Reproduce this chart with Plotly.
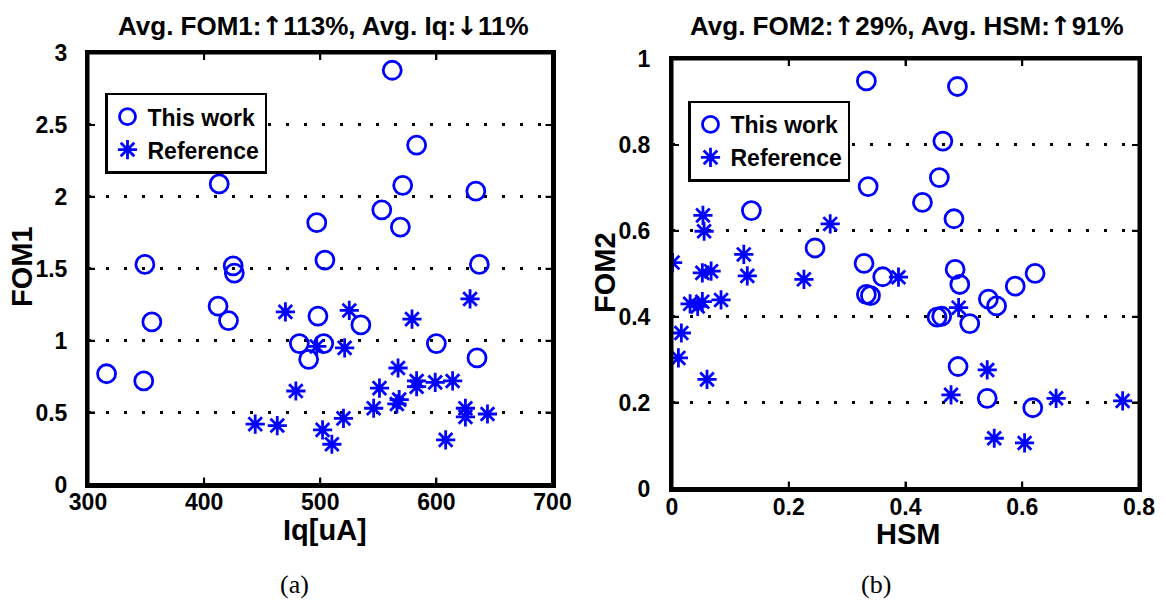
import plotly.graph_objects as go

# ---- data ----
iq_tw = [562, 583, 413, 571, 634, 553, 569, 497, 504, 349, 425, 426, 637,
         412, 421, 355, 498, 535, 482, 503, 490, 600, 635, 316, 348]
fom1_tw = [2.88, 2.36, 2.09, 2.08, 2.04, 1.91, 1.79, 1.82, 1.56, 1.53, 1.52, 1.47, 1.53,
           1.24, 1.14, 1.13, 1.17, 1.11, 0.98, 0.98, 0.87, 0.98, 0.88, 0.77, 0.72]

iq_ref = [470, 525, 579, 629, 497, 521, 567, 479, 551, 583, 583, 599, 614,
          568, 566, 546, 625, 625, 644, 520, 444, 463, 502, 510, 608]
fom1_ref = [1.20, 1.21, 1.15, 1.29, 0.96, 0.95, 0.81, 0.65, 0.67, 0.72, 0.68, 0.71, 0.72,
            0.59, 0.56, 0.53, 0.53, 0.47, 0.49, 0.46, 0.42, 0.41, 0.38, 0.28, 0.31]

hsm_tw = [0.333, 0.489, 0.464, 0.458, 0.336, 0.429, 0.483, 0.136, 0.245, 0.329, 0.361, 0.333, 0.340,
          0.485, 0.493, 0.622, 0.588, 0.542, 0.556, 0.454, 0.462, 0.510, 0.490, 0.540, 0.618]
fom2_tw = [0.949, 0.936, 0.809, 0.724, 0.703, 0.666, 0.628, 0.647, 0.560, 0.524, 0.493, 0.452, 0.449,
           0.510, 0.475, 0.501, 0.471, 0.441, 0.425, 0.399, 0.401, 0.384, 0.284, 0.210, 0.188]

hsm_ref = [0.053, 0.055, 0.271, 0.123, 0.129, 0.001, 0.052, 0.067, 0.226, 0.388, 0.031, 0.052,
           0.044, 0.084, 0.016, 0.011, 0.060, 0.491, 0.540, 0.478, 0.552, 0.604, 0.658, 0.772]
fom2_ref = [0.636, 0.599, 0.616, 0.545, 0.495, 0.526, 0.502, 0.506, 0.487, 0.492, 0.430, 0.435,
            0.424, 0.439, 0.362, 0.304, 0.254, 0.421, 0.276, 0.218, 0.117, 0.106, 0.210, 0.204]

# tick values
iq_ticks = [300, 400, 500, 600, 700]
fom1_ticks = [0, 0.5, 1, 1.5, 2, 2.5, 3]
hsm_ticks = [0, 0.2, 0.4, 0.6, 0.8]
fom2_ticks = [0, 0.2, 0.4, 0.6, 0.8, 1]

UP = '<span style="font-family:DejaVu Sans;color:black">↑</span>'
DOWN = '<span style="font-family:DejaVu Sans;color:black">↓</span>'
title_a = "Avg. FOM1:" + UP + "113%, Avg. Iq:" + DOWN + "11%"
title_b = "Avg. FOM2:" + UP + "29%, Avg. HSM:" + UP + "91%"
names = ["This work", "Reference"]

W, H = 1166, 600
SANS = "Liberation Sans, Arial, sans-serif"
BLUE = "#0000ff"

def px_x(p):
    return p / W

def px_y(p):
    return 1 - p / H

fig = go.Figure()

circ = dict(symbol="circle-open", size=18, color=BLUE, line=dict(color=BLUE, width=2.8))
star = dict(symbol="asterisk-open", size=16, color=BLUE, line=dict(color=BLUE, width=2.8))

fig.add_trace(go.Scatter(x=iq_tw, y=fom1_tw, mode="markers", name=names[0], marker=circ,
                         xaxis="x", yaxis="y", legend="legend"))
fig.add_trace(go.Scatter(x=iq_ref, y=fom1_ref, mode="markers", name=names[1], marker=star,
                         xaxis="x", yaxis="y", legend="legend"))
fig.add_trace(go.Scatter(x=hsm_tw, y=fom2_tw, mode="markers", name=names[0], marker=circ,
                         xaxis="x2", yaxis="y2", legend="legend2"))
fig.add_trace(go.Scatter(x=hsm_ref, y=fom2_ref, mode="markers", name=names[1], marker=star,
                         xaxis="x2", yaxis="y2", legend="legend2"))

tickfont = dict(family=SANS, size=23, color="black", weight="bold")
common = dict(showline=True, linecolor="black", linewidth=3, mirror="ticks",
              ticks="inside", ticklen=7, tickwidth=2, tickcolor="black",
              tickfont=tickfont, zeroline=False, automargin=False, fixedrange=True)
ygrid = dict(showgrid=True, gridcolor="black", gridwidth=2.5, griddash="2.5px,15.5px")

legfont = dict(family=SANS, size=23, color="black", weight="bold")

fig.update_layout(
    width=W, height=H, margin=dict(l=0, r=0, t=0, b=0),
    paper_bgcolor="white", plot_bgcolor="white", showlegend=True,
    xaxis=dict(domain=[px_x(88), px_x(552.5)], range=[300, 700], tickvals=iq_ticks,
               anchor="y", showgrid=False, ticklabelstandoff=-5, **common),
    yaxis=dict(domain=[px_y(484.5), px_y(53)], range=[0, 3], tickvals=fom1_ticks,
               anchor="x", ticklabelstandoff=13, **ygrid, **common),
    xaxis2=dict(domain=[px_x(672), px_x(1139)], range=[0, 0.8], tickvals=hsm_ticks,
                anchor="y2", showgrid=False, ticklabelstandoff=-4, **common),
    yaxis2=dict(domain=[px_y(488.5), px_y(59)], range=[0, 1], tickvals=fom2_ticks,
                anchor="x2", ticklabelstandoff=14, **ygrid, **common),
    legend=dict(x=px_x(105), y=px_y(92.7), xanchor="left", yanchor="top",
                bgcolor="white", bordercolor="black", borderwidth=2.5,
                font=legfont, tracegroupgap=0, itemsizing="trace"),
    legend2=dict(x=px_x(688), y=px_y(100.5), xanchor="left", yanchor="top",
                 bgcolor="white", bordercolor="black", borderwidth=2.5,
                 font=legfont, tracegroupgap=0, itemsizing="trace"),
)

TL = 7
tick_line = dict(color="black", width=2)
for xa, ya, xt, yt in (("x", "y", iq_ticks, fom1_ticks), ("x2", "y2", hsm_ticks, fom2_ticks)):
    # heavy black frame around the axes box
    fig.add_shape(type="rect", xref=f"{xa} domain", yref=f"{ya} domain",
                  x0=0, x1=1, y0=0, y1=1, line=dict(color="black", width=3), layer="above")
    # inward tick marks on all four sides
    for v in xt[1:-1]:
        fig.add_shape(type="line", xref=xa, yref=f"{ya} domain", x0=v, x1=v,
                      ysizemode="pixel", yanchor=0, y0=0, y1=TL, line=tick_line, layer="above")
        fig.add_shape(type="line", xref=xa, yref=f"{ya} domain", x0=v, x1=v,
                      ysizemode="pixel", yanchor=1, y0=0, y1=-TL, line=tick_line, layer="above")
    for v in yt[1:-1]:
        fig.add_shape(type="line", yref=ya, xref=f"{xa} domain", y0=v, y1=v,
                      xsizemode="pixel", xanchor=0, x0=0, x1=TL, line=tick_line, layer="above")
        fig.add_shape(type="line", yref=ya, xref=f"{xa} domain", y0=v, y1=v,
                      xsizemode="pixel", xanchor=1, x0=0, x1=-TL, line=tick_line, layer="above")

def ann(text, x, y, size, angle=0, family=SANS, weight="bold"):
    fig.add_annotation(text=text, x=px_x(x), y=px_y(y), xref="paper", yref="paper",
                       xanchor="center", yanchor="middle", showarrow=False, textangle=angle,
                       font=dict(family=family, size=size, color="black", weight=weight))

ann(title_a, 323, 26, 26)
ann(title_b, 907, 26, 26)
ann("FOM1", 22, 267, 29, angle=-90)
ann("FOM2", 605, 273, 29, angle=-90)
ann("Iq[uA]", 325, 530, 29)
ann("HSM", 908, 534, 29)
ann("(a)", 294, 584, 26, family="Liberation Serif, Times New Roman, serif", weight="normal")
ann("(b)", 876, 584, 26, family="Liberation Serif, Times New Roman, serif", weight="normal")

fig.write_html("out.html")
